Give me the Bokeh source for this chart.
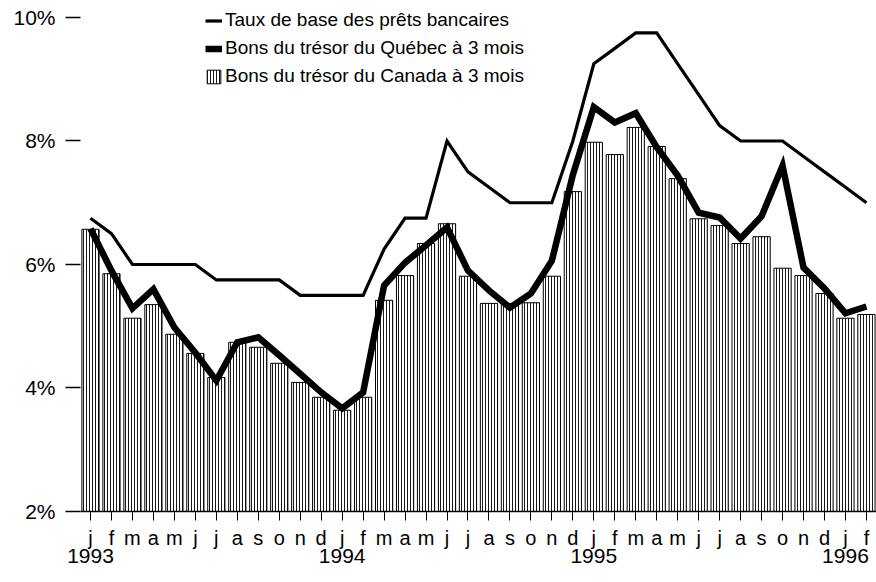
from bokeh.plotting import figure
from bokeh.models import (FixedTicker, LinearAxis, Range1d, Legend, LegendItem)
from bokeh.embed import file_html
from bokeh.resources import INLINE

# ---- data (monthly, Jan 1993 - Feb 1996) ----
month_labels = ["j", "f", "m", "a", "m", "j", "j", "a", "s", "o", "n", "d"] * 3 + ["j", "f"]
year_ticks = [0, 12, 24, 36]
year_labels = ["1993", "1994", "1995", "1996"]

prime = [6.75, 6.5, 6.0, 6.0, 6.0, 6.0, 5.75, 5.75, 5.75, 5.75, 5.5, 5.5,
         5.5, 5.5, 6.25, 6.75, 6.75, 8.0, 7.5, 7.25, 7.0, 7.0, 7.0, 8.0,
         9.25, 9.5, 9.75, 9.75, 9.25, 8.75, 8.25, 8.0, 8.0, 8.0, 7.75, 7.5,
         7.25, 7.0]

quebec = [6.58, 5.9, 5.29, 5.6, 4.98, 4.57, 4.12, 4.74, 4.82, 4.53, 4.23, 3.93,
          3.67, 3.93, 5.66, 6.03, 6.31, 6.6, 5.9, 5.58, 5.3, 5.53, 6.06, 7.45,
          8.55, 8.3, 8.45, 7.9, 7.44, 6.84, 6.76, 6.42, 6.78, 7.6, 5.95, 5.61,
          5.21, 5.32]

canada = [6.57, 5.85, 5.13, 5.35, 4.87, 4.56, 4.17, 4.74, 4.66, 4.4, 4.09, 3.85,
          3.64, 3.85, 5.42, 5.82, 6.34, 6.66, 5.81, 5.37, 5.37, 5.38, 5.81, 7.18,
          7.98, 7.78, 8.22, 7.91, 7.39, 6.74, 6.63, 6.34, 6.45, 5.94, 5.82, 5.53,
          5.13, 5.19]

y_ticks = [2, 4, 6, 8, 10]
y_labels = ["2%", "4%", "6%", "8%", "10%"]

FONT = "Liberation Sans"
x = list(range(len(canada)))

p = figure(width=876, height=580, output_backend="svg", toolbar_location=None,
           x_range=Range1d(-0.477, 37.48), y_range=Range1d(2, 10.275),
           min_border_left=80, min_border_right=0, min_border_top=0,
           min_border_bottom=69, background_fill_color="white",
           border_fill_color="white", outline_line_color=None)
p.grid.visible = False

bars = p.vbar(x=x, top=canada, bottom=2, width=0.82, fill_color="white",
              line_color="black", line_width=1,
              hatch_pattern="vertical_line", hatch_color="black",
              hatch_scale=3, hatch_weight=1, hatch_alpha=0.9)
r_prime = p.line(x, prime, line_color="black", line_width=3.2, line_join="miter")
r_q = p.line(x, quebec, line_color="black", line_width=6.5, line_join="miter")

# y axis
ya = p.yaxis[0]
ya.ticker = FixedTicker(ticks=y_ticks)
ya.major_label_overrides = {t: l for t, l in zip(y_ticks, y_labels)}
ya.axis_line_color = None
ya.major_tick_in = 0
ya.major_tick_out = 15
ya.major_tick_line_width = 1.5
ya.minor_tick_line_color = None
ya.major_label_standoff = 10
ya.major_label_text_font = FONT
ya.major_label_text_font_size = "21px"
ya.major_label_text_color = "black"

# x axis (months)
xa = p.xaxis[0]
xa.ticker = FixedTicker(ticks=x)
xa.major_label_overrides = {i: m for i, m in zip(x, month_labels)}
xa.axis_line_color = "black"
xa.axis_line_width = 1.5
xa.major_tick_in = 0
xa.major_tick_out = 9
xa.major_tick_line_width = 1
xa.minor_tick_line_color = None
xa.major_label_standoff = 6
xa.major_label_text_font = FONT
xa.major_label_text_font_size = "20px"
xa.major_label_text_color = "black"

# year axis
ya2 = LinearAxis(ticker=FixedTicker(ticks=year_ticks),
                 major_label_overrides={t: l for t, l in zip(year_ticks, year_labels)},
                 axis_line_color=None, major_tick_line_color=None,
                 minor_tick_line_color=None, major_label_standoff=-9,
                 major_label_text_font=FONT, major_label_text_font_size="21px",
                 major_label_text_color="black")
p.add_layout(ya2, "below")

legend = Legend(items=[
    LegendItem(label="Taux de base des prêts bancaires", renderers=[r_prime]),
    LegendItem(label="Bons du trésor du Québec à 3 mois", renderers=[r_q]),
    LegendItem(label="Bons du trésor du Canada à 3 mois", renderers=[bars]),
], location=(125, 424), orientation="vertical",
    glyph_width=17, glyph_height=17, label_height=20, label_standoff=3,
    spacing=6, padding=0, margin=0,
    label_text_font=FONT, label_text_font_size="19px", label_text_color="black",
    border_line_color=None, background_fill_alpha=0)
p.add_layout(legend)

open("out.html", "w").write(file_html(p, INLINE))
